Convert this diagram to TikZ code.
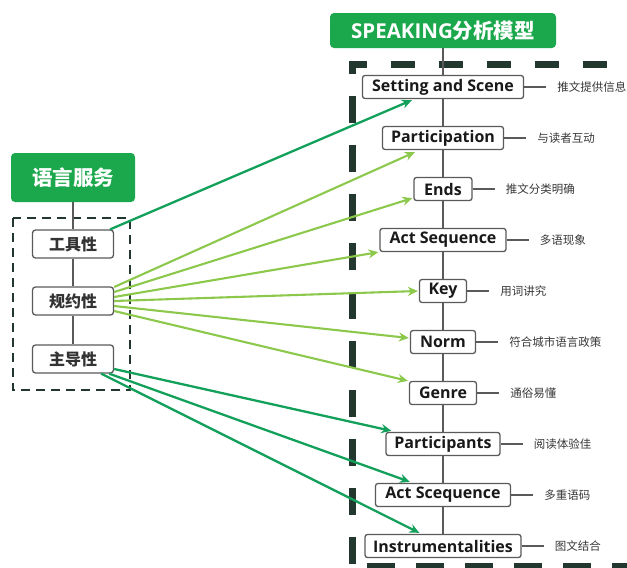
\documentclass[tikz,border=0pt]{standalone}
\usepackage{fontspec}
\setmainfont{Open Sans}
\newfontfamily\cjk{Noto Sans CJK SC}
\usetikzlibrary{arrows.meta,calc,positioning}
\definecolor{gbox}{HTML}{1BA84C}
\definecolor{dkarrow}{HTML}{13A05A}
\definecolor{ltarrow}{HTML}{8CC84B}
\definecolor{dashc}{HTML}{22372E}
\definecolor{edgec}{HTML}{5A5A5A}
\begin{document}
\begin{tikzpicture}[x=1pt,y=-1pt,
  item/.style={draw=edgec, line width=1.3pt, rounded corners=2.5pt, fill=white,
    font=\bfseries\fontsize{16}{18}\selectfont, text=black!90, minimum height=23pt, inner sep=0pt},
  lbox/.style={draw=edgec, line width=1.3pt, rounded corners=3pt, fill=white,
    font=\cjk\bfseries\fontsize{16}{18}\selectfont, text=black!80, minimum width=81pt, minimum height=28pt, inner sep=0pt},
  gtitle/.style={fill=gbox, rounded corners=4pt, text=white, inner sep=0pt},
  lab/.style={font=\cjk\fontsize{11.5}{13}\selectfont, text=black!78, anchor=west, inner sep=0pt},
  conn/.style={draw=edgec, line width=1.3pt},
  darr/.style={draw=dkarrow, line width=2.3pt, -{Stealth[length=10pt,width=9pt]}},
  larr/.style={draw=ltarrow, line width=2.1pt, -{Stealth[length=10pt,width=9pt]}},
  tick/.style={draw=edgec, line width=1.2pt},
]
\useasboundingbox (0,0) rectangle (627,568);
\clip (0,0) rectangle (627,568);

% big dashed frame
\draw[dashc, line width=7pt, dash pattern=on 24pt off 24pt, dash phase=9pt] (352,64) -- (660,64);
\draw[dashc, line width=7pt, dash pattern=on 27pt off 22pt, dash phase=14pt] (352,60.5) -- (352,566);
\draw[dashc, line width=7pt, dash pattern=on 28pt off 21pt, dash phase=34pt] (352,566) -- (660,566);

% left dashed frame
\draw[dashc, line width=2.6pt, dash pattern=on 9pt off 6pt] (13,218) rectangle (130,390);

% title boxes
\node[gtitle, minimum width=124pt, minimum height=49pt, font=\cjk\bfseries\fontsize{20.5}{23}\selectfont] (lang) at (73,177.5) {语言服务};
\node[gtitle, minimum width=226pt, minimum height=35pt] (sp) at (443,30.5) {\bfseries\fontsize{20.5}{23}\selectfont SPEAKING{\cjk\bfseries 分析模型}};

% left boxes
\node[lbox] (t) at (73,244) {工具性};
\node[lbox] (g) at (73,301) {规约性};
\node[lbox] (z) at (73,359) {主导性};

% right items
\node[item, minimum width=161pt] (s1) at (443,87) {Setting and Scene};
\node[item, minimum width=121pt] (s2) at (443,138) {Participation};
\node[item, minimum width=58pt]  (s3) at (443,189) {Ends};
\node[item, minimum width=126pt] (s4) at (443,240) {Act Sequence};
\node[item, minimum width=47pt]  (s5) at (443,291) {Key};
\node[item, minimum width=65pt]  (s6) at (443,342) {Norm};
\node[item, minimum width=67pt]  (s7) at (443,393) {Genre};
\node[item, minimum width=114pt] (s8) at (443,444) {Participants};
\node[item, minimum width=135pt] (s9) at (443,495) {Act Scequence};
\node[item, minimum width=156pt] (s10) at (443,546) {Instrumentalities};

% vertical connectors
\draw[conn] (lang.south) -- (t.north);
\draw[conn] (t.south) -- (g.north);
\draw[conn] (g.south) -- (z.north);
\draw[conn] (sp.south) -- (s1.north);
\foreach \a/\b in {s1/s2,s2/s3,s3/s4,s4/s5,s5/s6,s6/s7,s7/s8,s8/s9,s9/s10}
  \draw[conn] (\a.south) -- (\b.north);

% side labels
\foreach \n/\l/\t in {s1/l1/推文提供信息, s2/l2/与读者互动, s3/l3/推文分类明确, s4/l4/多语现象, s5/l5/用词讲究,
  s6/l6/符合城市语言政策, s7/l7/通俗易懂, s8/l8/阅读体验佳, s9/l9/多重语码, s10/l10/图文结合}{
  \node[lab] (\l) at ($(\n.east)+(33,0)$) {\t};
  \draw[tick] (\n.east) -- ($(\n.east)+(22,0)$);
}

% arrows
\draw[darr] ($(t.north east)+(-4,0)$) -- ($(s1.south west)+(50,1)$);
\draw[larr] ($(g.east)+(0,-14)$) -- ($(s2.south west)+(33,2)$);
\draw[larr] ($(g.east)+(0,-9)$)  -- ($(s3.south west)+(-1,-3)$);
\draw[larr] ($(g.east)+(0,-4)$)  -- ($(s4.south west)+(-1,0)$);
\draw[larr] ($(g.east)+(0,0)$)   -- ($(s5.west)+(-1,0)$);
\draw[larr] ($(g.east)+(0,5)$)   -- ($(s6.west)+(-1,-4)$);
\draw[larr] ($(g.east)+(0,10)$)  -- ($(s7.north west)+(-1,0)$);
\draw[darr] ($(z.east)+(0,10)$)  -- ($(s8.north west)+(6,-1)$);
\draw[darr] ($(z.south east)+(-5,0)$) -- ($(s9.north west)+(35,-1)$);
\draw[darr] ($(z.south east)+(-13,0)$) -- ($(s10.north west)+(55,-1)$);
\end{tikzpicture}
\end{document}
